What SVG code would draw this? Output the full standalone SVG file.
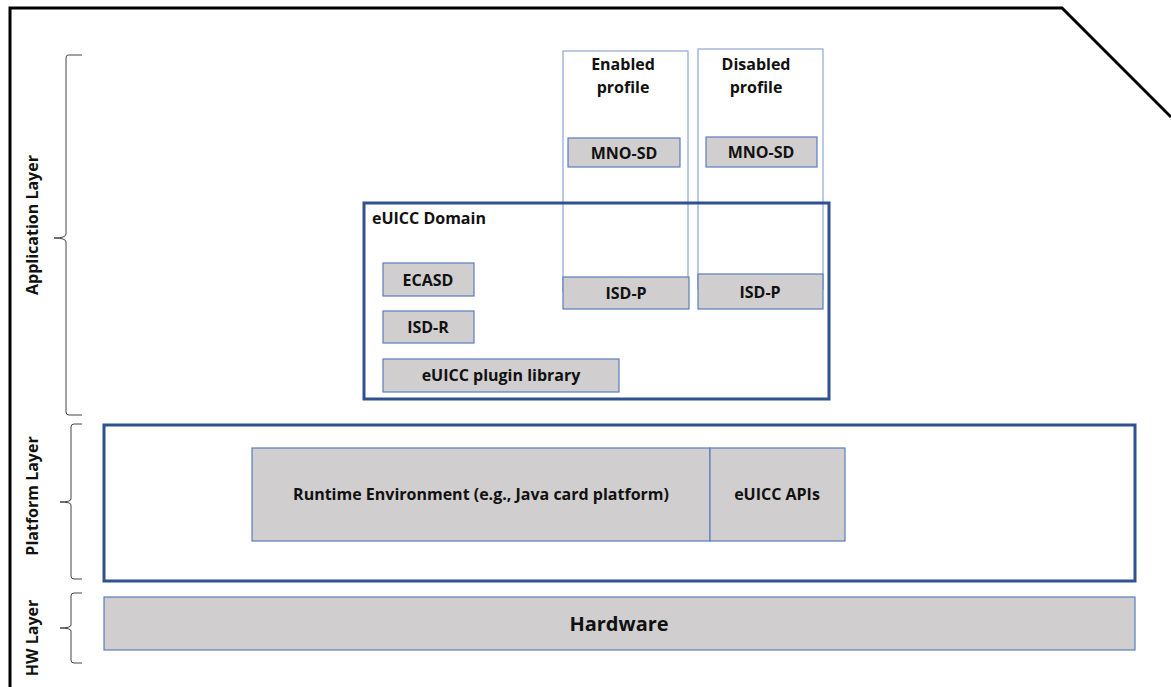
<svg xmlns="http://www.w3.org/2000/svg" width="1171" height="687" viewBox="0 0 1171 687">
  <style>
    .t { font-family: "Open Sans", "Liberation Sans", sans-serif; font-weight: bold; fill: #111; font-size: 16px; }
    .c { text-anchor: middle; }
    .box { fill: #D0CECE; stroke: #5B7DBE; stroke-width: 1.2; }
    .col { fill: #fff; stroke: #8FA6D2; stroke-width: 1.2; }
    .frame { fill: none; stroke: #2F528F; stroke-width: 3; }
    .brace { fill: none; stroke: #444; stroke-width: 1; }
  </style>
  <rect width="1171" height="687" fill="#fff"/>

  <!-- outer card outline with clipped corner -->
  <path d="M10,687 V8 H1062 L1171,117" fill="none" stroke="#000" stroke-width="3"/>

  <!-- layer braces -->
  <g id="braces">
    <path class="brace" d="M82,55 H68 Q66,55 66,58 V234 Q66,238 54,238 Q66,238 66,242 V412 Q66,415 69,415 H82"/>
    <path class="brace" d="M82,424 H74 Q71,424 71,427 V499 Q71,502 60,502 Q71,502 71,505 V576 Q71,579 74,579 H82"/>
    <path class="brace" d="M82,593 H74 Q71,593 71,596 V625 Q71,628 60,628 Q71,628 71,631 V660 Q71,663 74,663 H82"/>
  </g>

  <!-- layer labels -->
  <g id="layer-labels">
    <text class="t c" transform="translate(38,225) rotate(-90)">Application Layer</text>
    <text class="t c" transform="translate(38,496) rotate(-90)">Platform Layer</text>
    <text class="t c" transform="translate(38,638) rotate(-90)">HW Layer</text>
  </g>

  <!-- profile columns -->
  <g id="enabled-profile">
    <rect class="col" x="563" y="51" width="125" height="240"/>
    <text class="t c" x="623" y="70">Enabled</text>
    <text class="t c" x="623" y="93">profile</text>
  </g>
  <g id="disabled-profile">
    <rect class="col" x="698" y="49" width="125" height="240"/>
    <text class="t c" x="756" y="70">Disabled</text>
    <text class="t c" x="756" y="93">profile</text>
  </g>
  <g id="mno-sd-enabled">
    <rect class="box" x="568" y="138" width="112" height="29"/>
    <text class="t c" x="624" y="158.5">MNO-SD</text>
  </g>
  <g id="mno-sd-disabled">
    <rect class="box" x="706" y="137" width="111" height="30"/>
    <text class="t c" x="761" y="158">MNO-SD</text>
  </g>

  <!-- eUICC domain -->
  <g id="euicc-domain">
    <rect class="frame" x="364" y="203" width="465" height="196"/>
    <text class="t" x="372" y="224">eUICC Domain</text>
  </g>
  <g id="isd-p-enabled">
    <rect class="box" x="563" y="277" width="126" height="32"/>
    <text class="t c" x="626" y="299">ISD-P</text>
  </g>
  <g id="isd-p-disabled">
    <rect class="box" x="698" y="274" width="125" height="35"/>
    <text class="t c" x="760" y="297.5">ISD-P</text>
  </g>
  <g id="ecasd">
    <rect class="box" x="383" y="263" width="91" height="33"/>
    <text class="t c" x="428" y="285.5">ECASD</text>
  </g>
  <g id="isd-r">
    <rect class="box" x="383" y="311" width="91" height="32"/>
    <text class="t c" x="428" y="332.5">ISD-R</text>
  </g>
  <g id="plugin-library">
    <rect class="box" x="383" y="359" width="236" height="33"/>
    <text class="t c" x="501" y="381">eUICC plugin library</text>
  </g>

  <!-- platform layer -->
  <g id="platform">
    <rect class="frame" x="104" y="425" width="1031" height="156"/>
  </g>
  <g id="runtime">
    <rect class="box" x="252" y="448" width="458" height="93"/>
    <text class="t c" x="481" y="500">Runtime Environment (e.g., Java card platform)</text>
  </g>
  <g id="euicc-apis">
    <rect class="box" x="710" y="448" width="135" height="93"/>
    <text class="t c" x="777" y="500">eUICC APIs</text>
  </g>

  <!-- hardware layer -->
  <g id="hardware">
    <rect class="box" x="104" y="597" width="1031" height="53"/>
    <text class="t c" x="619" y="631" style="font-size:20px">Hardware</text>
  </g>
</svg>
